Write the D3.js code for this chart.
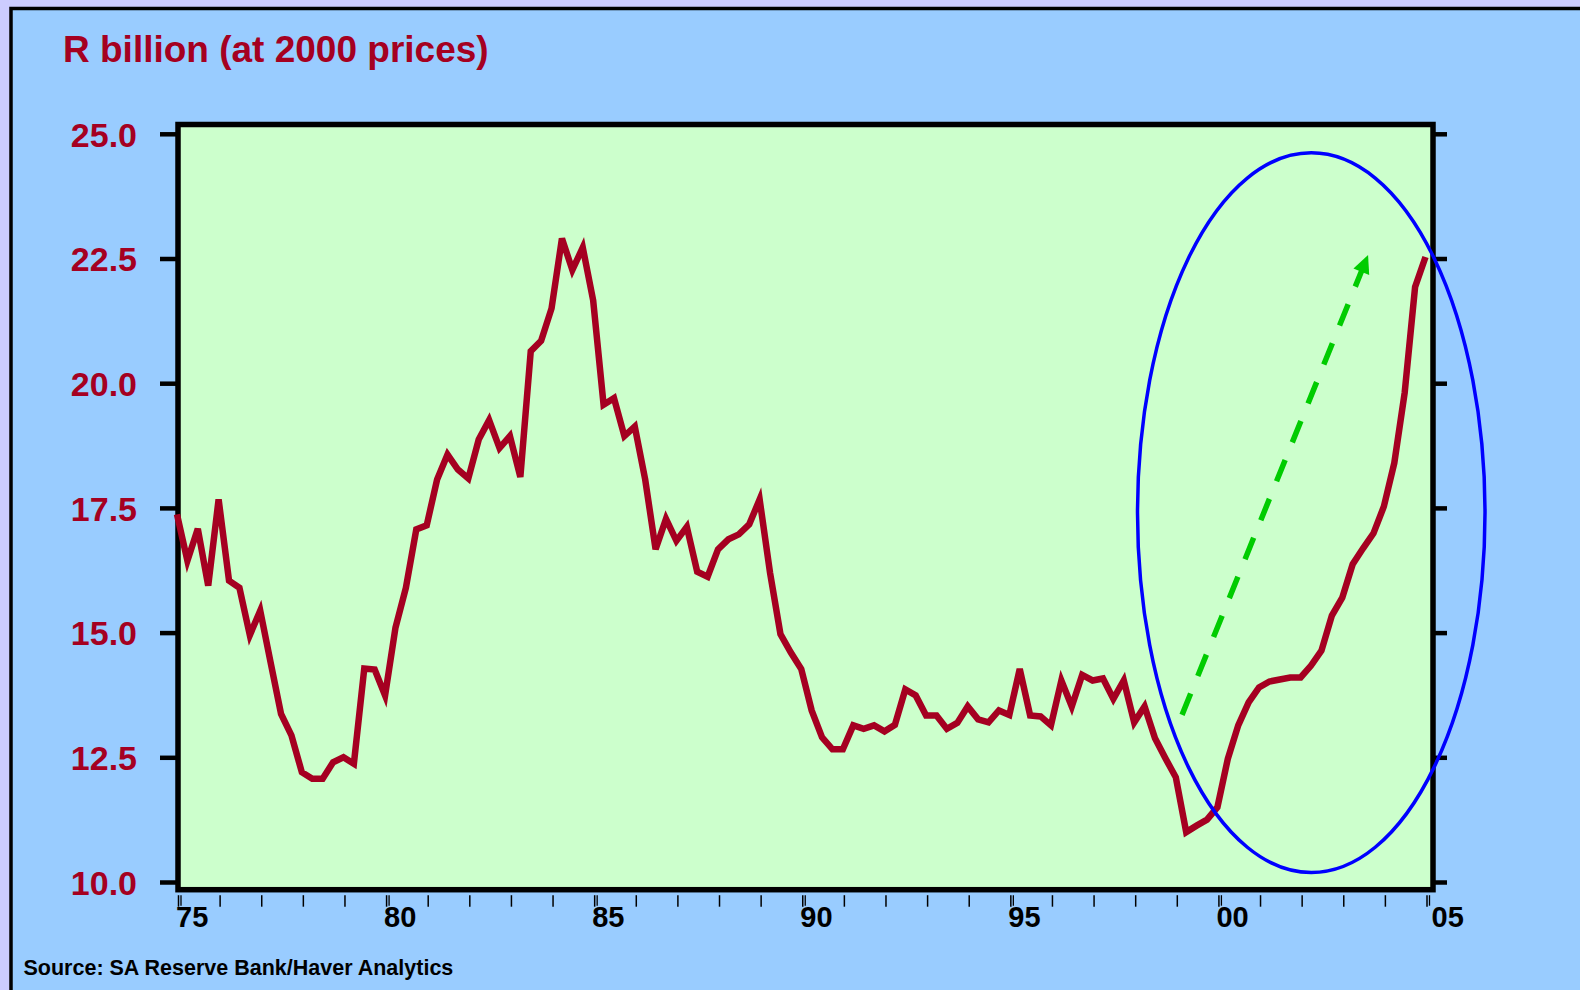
<!DOCTYPE html>
<html>
<head>
<meta charset="utf-8">
<script src="https://cdn.jsdelivr.net/npm/d3@7"></script>
<style>
  html, body { margin: 0; padding: 0; background: #ccccff; }
  svg { display: block; }
  text { font-family: "Liberation Sans", Arial, Helvetica, sans-serif; font-weight: bold; }
</style>
</head>
<body>
<svg id="chart" width="1580" height="990"></svg>
<script>
// Quarterly series, R billion at 2000 prices, 1975Q1 .. 2005Q1
const startYear = 1975;
const values = [
  17.37, 16.44, 17.08, 15.94, 17.67, 16.04, 15.90, 14.95, 15.44, 14.40,
  13.37, 12.94, 12.20, 12.07, 12.07, 12.40, 12.50, 12.37, 14.28, 14.26,
  13.74, 15.10, 15.90, 17.07, 17.15, 18.07, 18.57, 18.27, 18.09, 18.87,
  19.26, 18.70, 18.94, 18.12, 20.64, 20.85, 21.50, 22.90, 22.27, 22.72,
  21.66, 19.57, 19.70, 18.94, 19.13, 18.07, 16.67, 17.28, 16.84, 17.12,
  16.22, 16.12, 16.67, 16.87, 16.97, 17.17, 17.67, 16.20, 14.97, 14.60,
  14.27, 13.44, 12.90, 12.66, 12.66, 13.14, 13.07, 13.14, 13.02, 13.15,
  13.86, 13.74, 13.34, 13.34, 13.07, 13.19, 13.52, 13.26, 13.20, 13.44,
  13.35, 14.27, 13.34, 13.32, 13.14, 14.04, 13.52, 14.15, 14.04, 14.08,
  13.67, 14.04, 13.20, 13.52, 12.88, 12.48, 12.10, 11.00, 11.13, 11.25,
  11.50, 12.47, 13.14, 13.60, 13.90, 14.02, 14.06, 14.10, 14.10, 14.34,
  14.64, 15.34, 15.70, 16.37, 16.69, 16.99, 17.53, 18.40, 19.81, 21.93,
  22.53
];

// Axis ticks and labels
const yTickValues = [10, 12.5, 15, 17.5, 20, 22.5, 25];
const yearTickValues = d3.range(1975, 2006);
const labelYears = [1975, 1980, 1985, 1990, 1995, 2000, 2005];
const labelTexts = ["75", "80", "85", "90", "95", "00", "05"];

// Annotations in data units: trend arrow and highlight ellipse
const arrowFrom = [1999.15, 13.35];
const arrowTo = [2003.62, 22.57];
const ellipseX = [1998.08, 2006.43];
const ellipseY = [10.19, 24.62];

const titleText = "R billion (at 2000 prices)";
const sourceText = "Source: SA Reserve Bank/Haver Analytics";

const RED = "#a50021";

const svg = d3.select("#chart");

// Scales
const x = d3.scaleLinear().domain([1975, 2005]).range([177, 1425.5]);
const y = d3.scaleLinear().domain([10, 25]).range([882, 133.8]);

// Panel background with dark edge
svg.append("rect").attr("width", 1580).attr("height", 990).attr("fill", "#ccccff");
svg.append("rect")
  .attr("x", 11).attr("y", 8.5).attr("width", 1600).attr("height", 1000)
  .attr("fill", "#99ccff").attr("stroke", "#000").attr("stroke-width", 3.5);

// Plot frame
const frame = { left: 178, right: 1433, top: 124.5, bottom: 889.7 };
svg.append("rect")
  .attr("x", frame.left).attr("y", frame.top)
  .attr("width", frame.right - frame.left).attr("height", frame.bottom - frame.top)
  .attr("fill", "#ccffcc");

// Title
svg.append("text")
  .attr("x", 63).attr("y", 61.5)
  .attr("font-size", 37).attr("fill", RED)
  .text(titleText);

// Left y axis: ticks to the left of the frame, red labels
const yAxisLeft = d3.axisLeft(y)
  .tickValues(yTickValues)
  .tickFormat(d3.format(".1f"))
  .tickSizeInner(18).tickSizeOuter(0).tickPadding(23);
const gL = svg.append("g").attr("transform", `translate(${frame.left},0)`).call(yAxisLeft);
gL.select(".domain").remove();
gL.selectAll(".tick line").attr("stroke", "#000").attr("stroke-width", 4.5);
gL.selectAll(".tick text")
  .attr("font-size", 34).attr("fill", RED)
  .attr("font-family", "Liberation Sans, Arial, sans-serif").attr("font-weight", "bold")
  .attr("dy", "0.36em");

// Right y axis: ticks only
const yAxisRight = d3.axisRight(y)
  .tickValues(yTickValues)
  .tickFormat("")
  .tickSizeInner(14).tickSizeOuter(0);
const gR = svg.append("g").attr("transform", `translate(${frame.right},0)`).call(yAxisRight);
gR.select(".domain").remove();
gR.selectAll(".tick line").attr("stroke", "#000").attr("stroke-width", 4.5);

// Bottom x axis: a thin tick each year, doubled every five years
const tickTop = frame.bottom + 5.5, tickBottom = frame.bottom + 17;
const gX = svg.append("g");
gX.selectAll("line.yr")
  .data(yearTickValues)
  .join("line")
  .attr("class", "yr")
  .attr("x1", d => x(d) + 1.5).attr("x2", d => x(d) + 1.5)
  .attr("y1", tickTop).attr("y2", tickBottom)
  .attr("stroke", "#000").attr("stroke-width", 1.5);
gX.selectAll("line.yr5")
  .data(labelYears)
  .join("line")
  .attr("class", "yr5")
  .attr("x1", d => x(d) + 4).attr("x2", d => x(d) + 4)
  .attr("y1", tickTop).attr("y2", tickBottom - 1)
  .attr("stroke", "#000").attr("stroke-width", 1.3);
gX.selectAll("text")
  .data(labelYears)
  .join("text")
  .attr("x", (d, i) => x(d) - 1 + (i === labelYears.length - 1 ? 7 : 0))
  .attr("y", 926.5)
  .attr("font-size", 29).attr("fill", "#000")
  .text((d, i) => labelTexts[i]);

// Frame outline
svg.append("rect")
  .attr("x", frame.left).attr("y", frame.top)
  .attr("width", frame.right - frame.left).attr("height", frame.bottom - frame.top)
  .attr("fill", "none").attr("stroke", "#000").attr("stroke-width", 5.5);

// Series line
const line = d3.line()
  .x((d, i) => x(startYear + i / 4))
  .y(d => y(d));
svg.append("path")
  .datum(values)
  .attr("d", line)
  .attr("fill", "none")
  .attr("stroke", RED)
  .attr("stroke-width", 6.5)
  .attr("stroke-linejoin", "miter")
  .attr("stroke-miterlimit", 4)
  .attr("stroke-linecap", "butt");

// Dashed trend arrow
const ax0 = x(arrowFrom[0]), ay0 = y(arrowFrom[1]);
const ax1 = x(arrowTo[0]), ay1 = y(arrowTo[1]);
const len = Math.hypot(ax1 - ax0, ay1 - ay0);
const ux = (ax1 - ax0) / len, uy = (ay1 - ay0) / len;
const headLen = 18, headHalf = 8.5;
const bx = ax1 - ux * headLen, by = ay1 - uy * headLen;
svg.append("line")
  .attr("x1", ax0).attr("y1", ay0).attr("x2", bx + ux * 1).attr("y2", by + uy * 1)
  .attr("stroke", "#00cc00").attr("stroke-width", 5.5)
  .attr("stroke-dasharray", "23,19");
svg.append("polygon")
  .attr("points", [
    [ax1, ay1],
    [bx - uy * headHalf, by + ux * headHalf],
    [bx + uy * headHalf, by - ux * headHalf]
  ].map(p => p.join(",")).join(" "))
  .attr("fill", "#00cc00");

// Highlight ellipse around the recent upswing
svg.append("ellipse")
  .attr("cx", (x(ellipseX[0]) + x(ellipseX[1])) / 2)
  .attr("cy", (y(ellipseY[0]) + y(ellipseY[1])) / 2)
  .attr("rx", (x(ellipseX[1]) - x(ellipseX[0])) / 2)
  .attr("ry", (y(ellipseY[0]) - y(ellipseY[1])) / 2)
  .attr("fill", "none").attr("stroke", "#0000ff").attr("stroke-width", 3.5);

// Source note
svg.append("text")
  .attr("x", 23.5).attr("y", 975)
  .attr("font-size", 21.5).attr("fill", "#000")
  .text(sourceText);
</script>
</body>
</html>
